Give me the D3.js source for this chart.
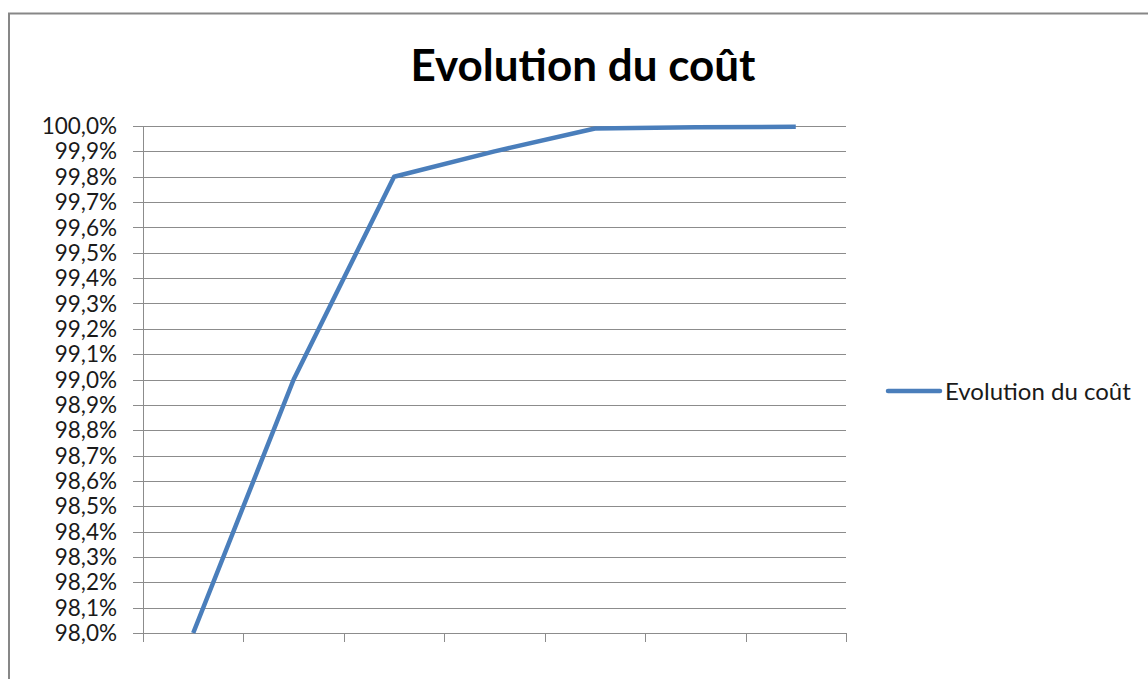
<!DOCTYPE html>
<html><head><meta charset="utf-8">
<script src="https://cdn.jsdelivr.net/npm/d3@7"></script>
<style>body{margin:0;background:#fff}svg{display:block}text{font-family:Lato,"Open Sans",sans-serif}</style>
</head><body>
<svg id="c" width="1148" height="679"></svg>
<script>
const title = "Evolution du coût";
const seriesName = "Evolution du coût";
const categories = ["1","2","3","4","5","6","7"];
const values = [98.0, 99.0, 99.8, 99.9, 99.99, 99.995, 99.997];
const yTicks = [98.0,98.1,98.2,98.3,98.4,98.5,98.6,98.7,98.8,98.9,99.0,99.1,99.2,99.3,99.4,99.5,99.6,99.7,99.8,99.9,100.0];

const svg = d3.select("#c");
svg.append("rect").attr("x",9).attr("y",13.5).attr("width",1160).attr("height",700)
  .attr("fill","#fff").attr("stroke","#878787").attr("stroke-width",2);

const L=143,R=846,T=126,B=633;
const x = d3.scaleBand().domain(categories).range([L,R]);
const y = d3.scaleLinear().domain([98,100]).range([B,T]);

svg.append("g").selectAll("line").data(yTicks).join("line")
  .attr("x1",L-10).attr("x2",R).attr("y1",d=>Math.round(y(d))+0.5).attr("y2",d=>Math.round(y(d))+0.5)
  .attr("stroke","#8c8c8c").attr("stroke-width",1);
svg.append("line").attr("x1",L+0.5).attr("x2",L+0.5).attr("y1",T).attr("y2",B).attr("stroke","#8c8c8c");
const fmt = d => d3.format(".1f")(d).replace(".",",")+"%";
svg.append("g").selectAll("text").data(yTicks).join("text")
  .attr("x",L-26).attr("y",d=>y(d)).attr("dy","0.36em").attr("text-anchor","end")
  .attr("font-size",22.5).attr("fill","#1a1a1a").text(fmt);

const xt = categories.map(c=>x(c)).concat([R]);
svg.append("g").selectAll("line").data(xt).join("line")
  .attr("x1",d=>Math.round(d)+0.5).attr("x2",d=>Math.round(d)+0.5).attr("y1",B).attr("y2",B+9)
  .attr("stroke","#8c8c8c");

svg.append("path").datum(values.map((v,i)=>[x(categories[i])+x.bandwidth()/2,y(v)]))
  .attr("d",d3.line()).attr("fill","none").attr("stroke","#4a7ebb").attr("stroke-width",4.5)
  .attr("stroke-linejoin","round");

svg.append("text").attr("x",583).attr("y",81).attr("text-anchor","middle")
  .attr("font-size",44).attr("font-weight","bold").attr("fill","#000").text(title);

svg.append("line").attr("x1",888).attr("x2",940).attr("y1",391).attr("y2",391)
  .attr("stroke","#4a7ebb").attr("stroke-width",4.5).attr("stroke-linecap","round");
svg.append("text").attr("x",945).attr("y",391).attr("dy","0.36em").attr("font-size",24)
  .attr("fill","#1a1a1a").text(seriesName);
</script></body></html>
